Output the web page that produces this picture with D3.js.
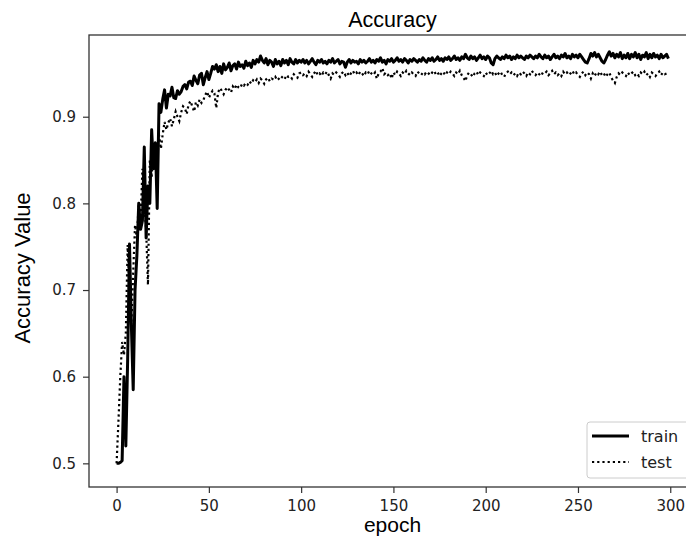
<!DOCTYPE html>
<html>
<head>
<meta charset="utf-8">
<script src="https://cdn.jsdelivr.net/npm/d3@7"></script>
<style>
  body { margin: 0; background: #fff; }
  svg { display: block; }
</style>
</head>
<body>
<div id="chart"></div>
<script>
// accuracy per epoch
const trainAcc = [
  0.500, 0.500, 0.501, 0.503, 0.600, 0.520, 0.620, 0.753, 0.660, 0.585,
  0.700, 0.740, 0.800, 0.770, 0.780, 0.865, 0.760, 0.820, 0.800, 0.885,
  0.840, 0.870, 0.794, 0.915, 0.905, 0.920, 0.931, 0.910, 0.926, 0.924,
  0.934, 0.922, 0.921, 0.930, 0.926, 0.929, 0.935, 0.937, 0.932, 0.940,
  0.941, 0.936, 0.947, 0.942, 0.938, 0.948, 0.950, 0.937, 0.945, 0.952,
  0.943, 0.950, 0.958, 0.955, 0.960, 0.952, 0.958, 0.950, 0.961, 0.954,
  0.957, 0.962, 0.953, 0.959, 0.961, 0.955, 0.963, 0.958, 0.960, 0.956,
  0.964, 0.959, 0.962, 0.957, 0.965, 0.961, 0.966, 0.963, 0.970, 0.965,
  0.962, 0.967, 0.960, 0.965, 0.963, 0.958, 0.966, 0.961, 0.964, 0.959,
  0.966, 0.962, 0.965, 0.960, 0.967, 0.963, 0.961, 0.966, 0.962, 0.965,
  0.963, 0.966, 0.962, 0.965, 0.961, 0.964, 0.967, 0.963, 0.960, 0.965,
  0.963, 0.966, 0.962, 0.964, 0.961, 0.965, 0.963, 0.967, 0.962, 0.964,
  0.966, 0.961, 0.964, 0.963, 0.957, 0.963, 0.966, 0.962, 0.965, 0.963,
  0.964, 0.961, 0.966, 0.963, 0.965, 0.962, 0.964, 0.967, 0.963, 0.965,
  0.962, 0.966, 0.964, 0.968, 0.963, 0.965, 0.961, 0.966, 0.964, 0.967,
  0.963, 0.965, 0.968, 0.964, 0.966, 0.963, 0.967, 0.965, 0.962, 0.966,
  0.964, 0.967, 0.965, 0.963, 0.966, 0.964, 0.968, 0.965, 0.963, 0.967,
  0.965, 0.968, 0.964, 0.966, 0.969, 0.965, 0.967, 0.964, 0.968, 0.966,
  0.969, 0.965, 0.967, 0.970, 0.966, 0.968, 0.965, 0.969, 0.967, 0.972,
  0.968, 0.966, 0.970, 0.967, 0.969, 0.965, 0.968, 0.971, 0.967, 0.969,
  0.966, 0.970, 0.968, 0.962, 0.960, 0.967, 0.970, 0.968, 0.966, 0.969,
  0.967, 0.971, 0.968, 0.970, 0.966, 0.969, 0.967, 0.971, 0.968, 0.970,
  0.968, 0.966, 0.970, 0.968, 0.971, 0.969, 0.967, 0.970, 0.968, 0.972,
  0.969, 0.967, 0.971, 0.968, 0.970, 0.966, 0.969, 0.972, 0.968, 0.970,
  0.967, 0.971, 0.969, 0.973, 0.968, 0.970, 0.967, 0.972, 0.969, 0.971,
  0.968, 0.972, 0.969, 0.966, 0.963, 0.962, 0.967, 0.973, 0.970, 0.974,
  0.969, 0.972, 0.968, 0.964, 0.962, 0.966, 0.971, 0.975, 0.970, 0.973,
  0.968, 0.972, 0.969, 0.974, 0.967, 0.971, 0.968, 0.973, 0.967, 0.972,
  0.969, 0.974, 0.968, 0.972, 0.966, 0.971, 0.969, 0.974, 0.967, 0.972,
  0.968, 0.973, 0.969, 0.971, 0.967, 0.972, 0.968, 0.970, 0.972, 0.967
];

const testAcc = [
  0.500, 0.548, 0.600, 0.640, 0.625, 0.650, 0.752, 0.700, 0.660, 0.720,
  0.775, 0.760, 0.800, 0.780, 0.840, 0.800, 0.770, 0.706, 0.850, 0.830,
  0.870, 0.855, 0.868, 0.879, 0.863, 0.880, 0.894, 0.885, 0.893, 0.898,
  0.889, 0.897, 0.906, 0.900, 0.895, 0.905, 0.912, 0.910, 0.903, 0.914,
  0.918, 0.912, 0.906, 0.917, 0.913, 0.920, 0.916, 0.919, 0.925, 0.929,
  0.922, 0.926, 0.930, 0.927, 0.910, 0.928, 0.933, 0.930, 0.926, 0.931,
  0.934, 0.931, 0.928, 0.935, 0.932, 0.937, 0.934, 0.933, 0.938, 0.936,
  0.939, 0.937, 0.941, 0.938, 0.942, 0.940, 0.943, 0.939, 0.944, 0.942,
  0.938, 0.943, 0.945, 0.941, 0.944, 0.943, 0.946, 0.942, 0.944, 0.947,
  0.945, 0.943, 0.948, 0.946, 0.947, 0.944, 0.949, 0.947, 0.945, 0.950,
  0.951, 0.948, 0.950, 0.947, 0.952, 0.949, 0.946, 0.950, 0.953, 0.948,
  0.950, 0.947, 0.951, 0.949, 0.952, 0.948, 0.944, 0.950, 0.948, 0.951,
  0.949, 0.946, 0.950, 0.952, 0.948, 0.951, 0.947, 0.950, 0.953, 0.949,
  0.951, 0.948, 0.952, 0.950, 0.947, 0.951, 0.949, 0.953, 0.950, 0.948,
  0.951, 0.944, 0.950, 0.952, 0.956, 0.949, 0.951, 0.948, 0.950, 0.944,
  0.951, 0.948, 0.952, 0.950, 0.947, 0.951, 0.949, 0.953, 0.950, 0.948,
  0.951, 0.949, 0.947, 0.952, 0.950, 0.948, 0.951, 0.949, 0.952, 0.950,
  0.948, 0.951, 0.953, 0.949, 0.951, 0.947, 0.950, 0.952, 0.948, 0.951,
  0.949, 0.952, 0.950, 0.947, 0.951, 0.949, 0.953, 0.948, 0.945, 0.941,
  0.948, 0.951, 0.949, 0.946, 0.950, 0.952, 0.948, 0.951, 0.949, 0.947,
  0.951, 0.948, 0.950, 0.953, 0.949, 0.951, 0.947, 0.950, 0.952, 0.948,
  0.946, 0.950, 0.952, 0.949, 0.951, 0.948, 0.950, 0.947, 0.951, 0.949,
  0.952, 0.950, 0.947, 0.951, 0.949, 0.953, 0.950, 0.948, 0.951, 0.949,
  0.947, 0.951, 0.950, 0.952, 0.948, 0.950, 0.953, 0.949, 0.951, 0.948,
  0.950, 0.947, 0.952, 0.949, 0.951, 0.948, 0.950, 0.953, 0.949, 0.951,
  0.948, 0.946, 0.950, 0.952, 0.948, 0.951, 0.949, 0.944, 0.950, 0.947,
  0.951, 0.949, 0.952, 0.948, 0.950, 0.946, 0.949, 0.951, 0.945, 0.942,
  0.939, 0.946, 0.950, 0.948, 0.951, 0.949, 0.947, 0.951, 0.948, 0.950,
  0.952, 0.948, 0.950, 0.947, 0.951, 0.949, 0.952, 0.948, 0.950, 0.946,
  0.951, 0.949, 0.947, 0.950, 0.952, 0.948, 0.951, 0.949, 0.950, 0.948
];

const xTicks = [0, 50, 100, 150, 200, 250, 300];
const yTicks = [0.5, 0.6, 0.7, 0.8, 0.9];
const seriesNames = ['train', 'test'];

const width = 686;
const height = 542;
const plot = { left: 89, right: 696, top: 35, bottom: 487 };

const svg = d3.select('#chart').append('svg')
  .attr('width', width)
  .attr('height', height);

const xScale = d3.scaleLinear()
  .domain([-14.95, 313.95])
  .range([plot.left, plot.right]);

const yScale = d3.scaleLinear()
  .domain([0.4727, 0.9943])
  .range([plot.bottom, plot.top]);

const tickFont = '"DejaVu Sans", sans-serif';
const labelFont = '"Liberation Sans", Arial, sans-serif';

// axes
const xAxis = d3.axisBottom(xScale)
  .tickValues(xTicks)
  .tickSize(6)
  .tickPadding(7)
  .tickFormat(d3.format('d'));

const yAxis = d3.axisLeft(yScale)
  .tickValues(yTicks)
  .tickSize(6)
  .tickPadding(7)
  .tickFormat(d3.format('.1f'));

const gx = svg.append('g')
  .attr('transform', `translate(0,${plot.bottom})`)
  .call(xAxis);

const gy = svg.append('g')
  .attr('transform', `translate(${plot.left},0)`)
  .call(yAxis);

[gx, gy].forEach(g => {
  g.select('.domain').remove();
  g.selectAll('.tick line').attr('stroke', '#333').attr('stroke-width', 1.2);
  g.selectAll('.tick text')
    .attr('fill', '#222')
    .style('font-family', tickFont)
    .style('font-size', '15px');
});

// frame
svg.append('rect')
  .attr('x', plot.left)
  .attr('y', plot.top)
  .attr('width', plot.right - plot.left)
  .attr('height', plot.bottom - plot.top)
  .attr('fill', 'none')
  .attr('stroke', '#333')
  .attr('stroke-width', 1.3);

// lines
const line = d3.line()
  .x((d, i) => xScale(i))
  .y(d => yScale(d));

svg.append('path')
  .datum(testAcc)
  .attr('fill', 'none')
  .attr('stroke', '#000')
  .attr('stroke-width', 2.2)
  .attr('stroke-dasharray', '2.2,3')
  .attr('d', line);

svg.append('path')
  .datum(trainAcc)
  .attr('fill', 'none')
  .attr('stroke', '#000')
  .attr('stroke-width', 3)
  .attr('stroke-linejoin', 'round')
  .attr('d', line);

// titles
svg.append('text')
  .attr('x', (plot.left + plot.right) / 2)
  .attr('y', 27)
  .attr('text-anchor', 'middle')
  .style('font-family', labelFont)
  .style('font-size', '21.5px')
  .text('Accuracy');

svg.append('text')
  .attr('x', (plot.left + plot.right) / 2)
  .attr('y', 532)
  .attr('text-anchor', 'middle')
  .style('font-family', labelFont)
  .style('font-size', '21px')
  .text('epoch');

svg.append('text')
  .attr('transform', `translate(30,${(plot.top + plot.bottom) / 2 + 7}) rotate(-90)`)
  .attr('text-anchor', 'middle')
  .style('font-family', labelFont)
  .style('font-size', '22px')
  .text('Accuracy Value');

// legend
const legend = svg.append('g').attr('transform', 'translate(587,422)');

legend.append('rect')
  .attr('width', 110)
  .attr('height', 56)
  .attr('rx', 3)
  .attr('fill', '#fff')
  .attr('fill-opacity', 0.8)
  .attr('stroke', '#ccc');

const items = legend.selectAll('.item')
  .data(seriesNames)
  .enter()
  .append('g')
  .attr('class', 'item')
  .attr('transform', (d, i) => `translate(0,${14 + i * 26})`);

items.append('line')
  .attr('x1', 5)
  .attr('x2', 42)
  .attr('stroke', '#000')
  .attr('stroke-width', (d, i) => i === 0 ? 3 : 2.2)
  .attr('stroke-dasharray', (d, i) => i === 0 ? null : '2.2,3');

items.append('text')
  .attr('x', 54)
  .attr('y', 6)
  .attr('fill', '#222')
  .style('font-family', tickFont)
  .style('font-size', '16px')
  .text(d => d);
</script>
</body>
</html>
